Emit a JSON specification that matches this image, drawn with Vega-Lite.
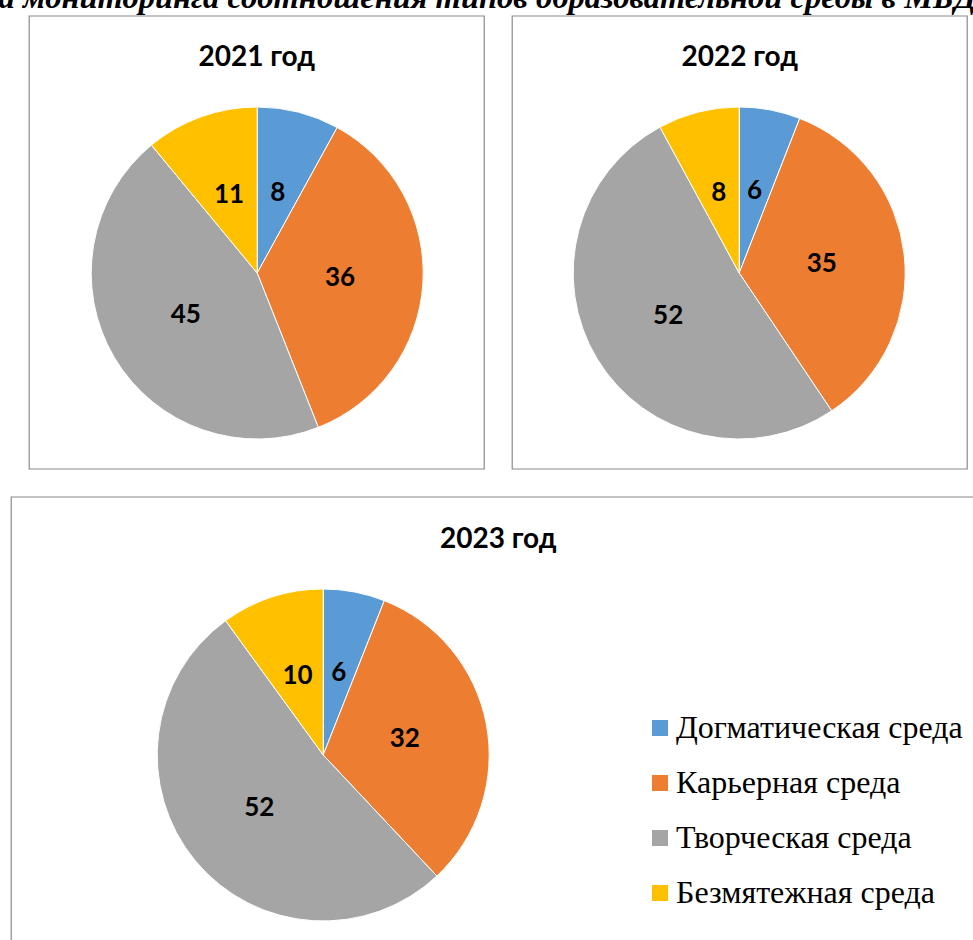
{
  "$schema": "https://vega.github.io/schema/vega-lite/v6.json",
  "padding": {"left": -2, "top": -19, "right": 0, "bottom": 0},
  "background": "white",
  "title": {
    "text": "а мониторинга соотношения типов образовательной среды в МБДОУ",
    "font": "Liberation Serif", "fontStyle": "italic", "fontWeight": "bold",
    "fontSize": 32.5, "anchor": "start", "baseline": "alphabetic", "offset": -25, "dx": -12, "color": "black"
  },
  "config": {
    "view": {"stroke": null},
    "title": {"font": "Lato", "fontWeight": "bold", "fontSize": 28, "color": "black"},
    "legend": {
      "symbolType": "square", "symbolSize": 256, "symbolStrokeWidth": 0,
      "labelFont": "Liberation Serif", "labelFontSize": 32, "labelColor": "black",
      "rowPadding": 23, "labelOffset": 0, "labelLimit": 400
    }
  },
  "datasets": {
    "shares": [
      {"year": 2021, "type": "Догматическая среда", "i": 1, "value": 8},
      {"year": 2021, "type": "Карьерная среда", "i": 2, "value": 36},
      {"year": 2021, "type": "Творческая среда", "i": 3, "value": 45},
      {"year": 2021, "type": "Безмятежная среда", "i": 4, "value": 11},
      {"year": 2022, "type": "Догматическая среда", "i": 1, "value": 6},
      {"year": 2022, "type": "Карьерная среда", "i": 2, "value": 35},
      {"year": 2022, "type": "Творческая среда", "i": 3, "value": 52},
      {"year": 2022, "type": "Безмятежная среда", "i": 4, "value": 8},
      {"year": 2023, "type": "Догматическая среда", "i": 1, "value": 6},
      {"year": 2023, "type": "Карьерная среда", "i": 2, "value": 32},
      {"year": 2023, "type": "Творческая среда", "i": 3, "value": 52},
      {"year": 2023, "type": "Безмятежная среда", "i": 4, "value": 10}
    ],
    "frame": [{"box": 1}]
  },
  "spacing": 26,
  "center": true,
  "vconcat": [
    {
      "spacing": 26,
      "hconcat": [
        {
          "width": 455, "height": 453,
          "title": {"text": "2021 год", "offset": -71, "baseline": "middle"},
          "layer": [
            {
              "data": {"name": "frame"},
              "mark": {"type": "rect", "x": 0, "x2": "width", "y": 0, "y2": "height", "fill": null, "stroke": "#8a8a8a", "strokeWidth": 1.2},
              "encoding": {}
            },
            {
              "data": {"name": "shares"},
              "transform": [{"filter": "datum.year == 2021"}],
              "layer": [
                {
                  "mark": {"type": "arc", "outerRadius": 166, "stroke": "white", "strokeWidth": 1, "x": 228, "y": 257},
                  "encoding": {
                    "theta": {"field": "value", "type": "quantitative", "stack": true},
                    "order": {"field": "i", "type": "quantitative"},
                    "color": {"field": "type", "type": "nominal", "sort": ["Догматическая среда", "Карьерная среда", "Творческая среда", "Безмятежная среда"], "scale": {"domain": ["Догматическая среда", "Карьерная среда", "Творческая среда", "Безмятежная среда"], "range": ["#5B9BD5", "#ED7D31", "#A5A5A5", "#FFC000"]}, "legend": {"orient": "none", "legendX": 633, "legendY": 696, "title": null}}
                  }
                },
                {
                  "mark": {"type": "text", "radius": 83, "font": "Lato", "fontWeight": "bold", "fontSize": 26, "color": "black", "x": 228, "y": 257},
                  "encoding": {
                    "theta": {"field": "value", "type": "quantitative", "stack": true},
                    "order": {"field": "i", "type": "quantitative"},
                    "text": {"field": "value", "type": "quantitative"}
                  }
                }
              ]
            }
          ]
        },
        {
          "width": 455, "height": 453,
          "title": {"text": "2022 год", "offset": -71, "baseline": "middle"},
          "layer": [
            {
              "data": {"name": "frame"},
              "mark": {"type": "rect", "x": 0, "x2": "width", "y": 0, "y2": "height", "fill": null, "stroke": "#8a8a8a", "strokeWidth": 1.2},
              "encoding": {}
            },
            {
              "data": {"name": "shares"},
              "transform": [{"filter": "datum.year == 2022"}],
              "layer": [
                {
                  "mark": {"type": "arc", "outerRadius": 166, "stroke": "white", "strokeWidth": 1, "x": 227, "y": 257},
                  "encoding": {
                    "theta": {"field": "value", "type": "quantitative", "stack": true},
                    "order": {"field": "i", "type": "quantitative"},
                    "color": {"field": "type", "type": "nominal", "sort": ["Догматическая среда", "Карьерная среда", "Творческая среда", "Безмятежная среда"]}
                  }
                },
                {
                  "mark": {"type": "text", "radius": 83, "font": "Lato", "fontWeight": "bold", "fontSize": 26, "color": "black", "x": 227, "y": 257},
                  "encoding": {
                    "theta": {"field": "value", "type": "quantitative", "stack": true},
                    "order": {"field": "i", "type": "quantitative"},
                    "text": {"field": "value", "type": "quantitative"}
                  }
                }
              ]
            }
          ]
        }
      ]
    },
    {
      "width": 974, "height": 460,
      "title": {"text": "2023 год", "offset": -72, "baseline": "middle"},
      "layer": [
        {
          "data": {"name": "frame"},
          "mark": {"type": "rect", "x": 0, "x2": "width", "y": 0, "y2": "height", "fill": null, "stroke": "#8a8a8a", "strokeWidth": 1.2},
          "encoding": {}
        },
        {
          "data": {"name": "shares"},
          "transform": [{"filter": "datum.year == 2023"}],
          "layer": [
            {
              "mark": {"type": "arc", "outerRadius": 166, "stroke": "white", "strokeWidth": 1, "x": 312, "y": 258},
              "encoding": {
                "theta": {"field": "value", "type": "quantitative", "stack": true},
                "order": {"field": "i", "type": "quantitative"},
                "color": {"field": "type", "type": "nominal", "sort": ["Догматическая среда", "Карьерная среда", "Творческая среда", "Безмятежная среда"]}
              }
            },
            {
              "mark": {"type": "text", "radius": 83, "font": "Lato", "fontWeight": "bold", "fontSize": 26, "color": "black", "x": 312, "y": 258},
              "encoding": {
                "theta": {"field": "value", "type": "quantitative", "stack": true},
                "order": {"field": "i", "type": "quantitative"},
                "text": {"field": "value", "type": "quantitative"}
              }
            }
          ]
        }
      ]
    }
  ]
}
